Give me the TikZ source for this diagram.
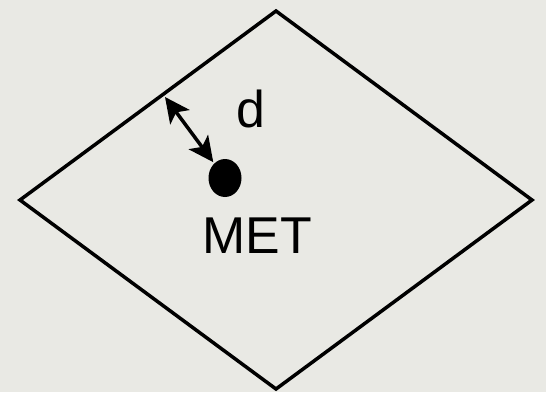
\documentclass[tikz,border=0pt]{standalone}
\usepackage{fontspec}
\setmainfont{Liberation Sans}
\usetikzlibrary{arrows.meta,shapes.geometric}
\definecolor{paper}{RGB}{233,233,228}
\tikzset{
  edgeline/.style={line width=3.5bp,line join=miter},
  metdot/.style={ellipse,fill=black,minimum width=33bp,minimum height=38bp,inner sep=0pt},
  bigtxt/.style={inner sep=0pt,anchor=base,font=\fontsize{52}{60}\selectfont},
  dist/.style={line width=3.5bp,{Stealth[length=25bp,width=24bp,inset=6bp]}-{Stealth[length=25bp,width=24bp,inset=6bp]}},
}
\begin{document}
\begin{tikzpicture}[x=1bp,y=-1bp]
  \fill[paper] (0,0) rectangle (546,392);
  \useasboundingbox (0,0) rectangle (546,392);
  \coordinate (top) at (276,11);
  \coordinate (rgt) at (532,200);
  \coordinate (bot) at (276,389);
  \coordinate (lft) at (20,200);
  \draw[edgeline] (top) -- (rgt) -- (bot) -- (lft) -- cycle;
  \node[metdot] (met) at (225,178) {};
  \node[bigtxt] (metlbl) at (257,253) {MET};
  \node[bigtxt] (dlbl) at (251,127) {d};
  \coordinate (rim) at (165,97);
  \draw[dist,shorten >=1.5bp] (rim) -- (met);
\end{tikzpicture}
\end{document}
